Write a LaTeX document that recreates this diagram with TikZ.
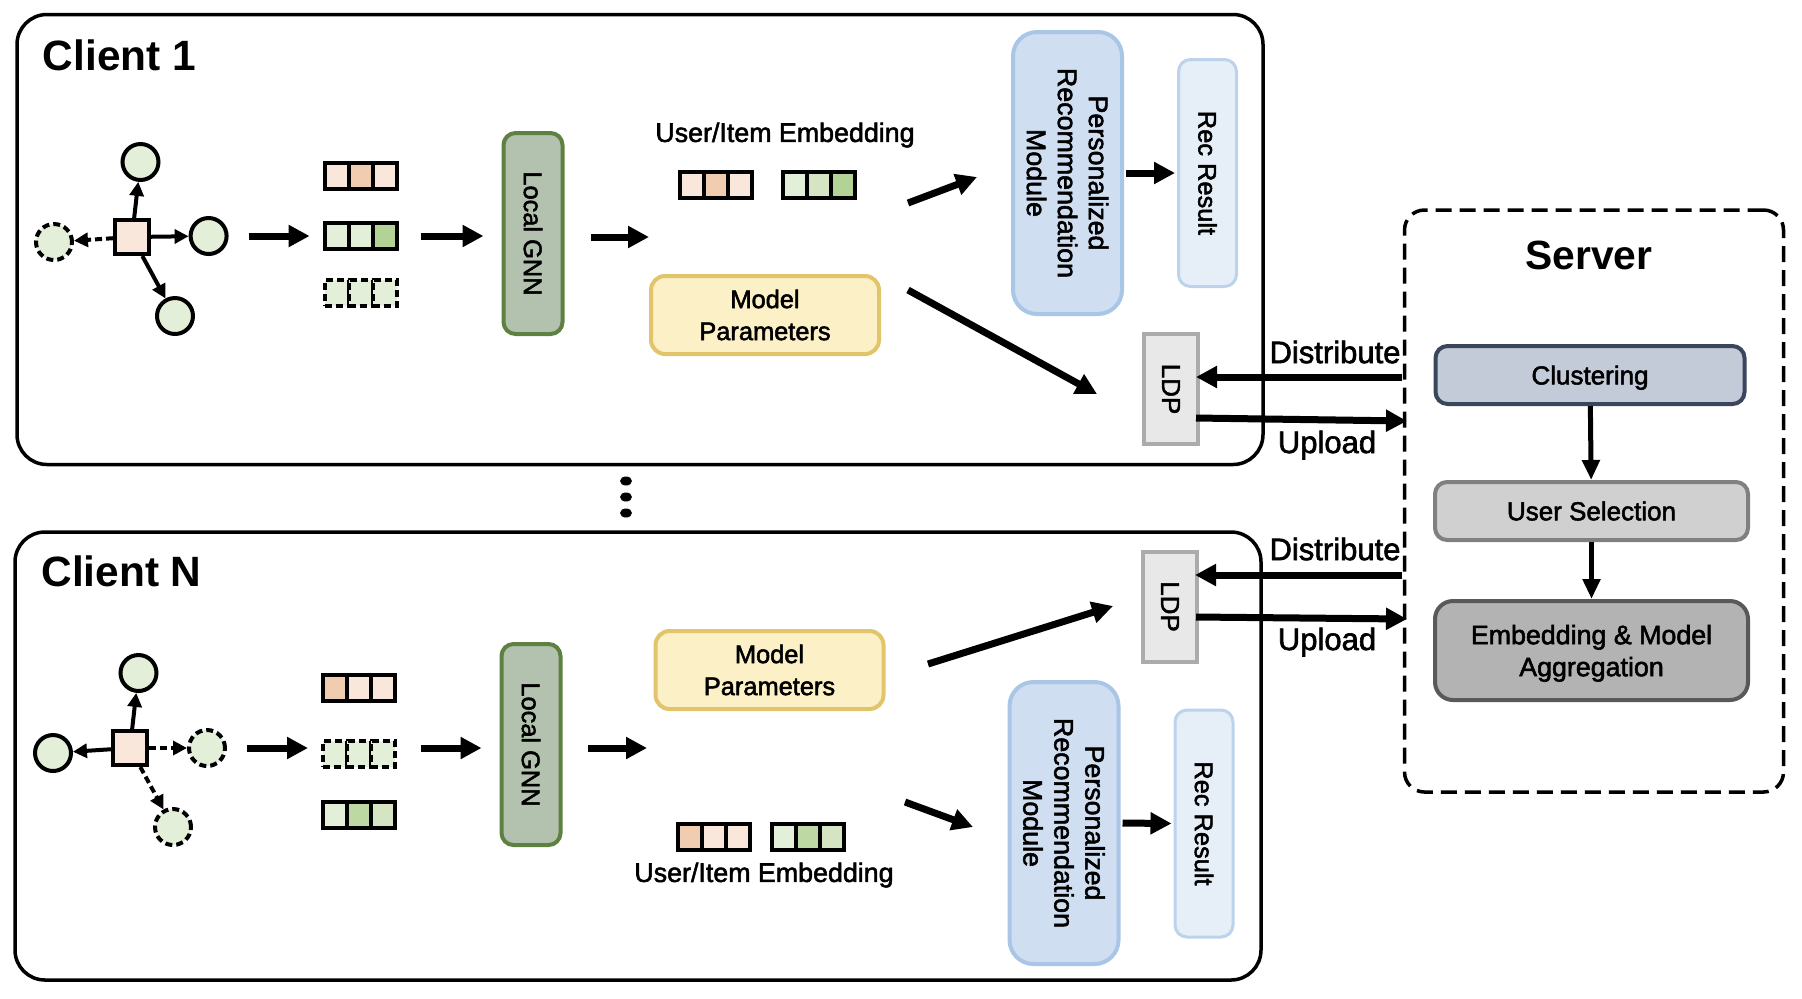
\documentclass[tikz,border=0pt]{standalone}
\usepackage{fontspec}
\usetikzlibrary{arrows.meta,shapes.geometric}
\setmainfont{Liberation Sans}
\newfontfamily\medfont[RawFeature={embolden=2}]{Liberation Sans}
\definecolor{peachA}{HTML}{F8E7DA}
\definecolor{peachB}{HTML}{F0CDB0}
\definecolor{greenA}{HTML}{E3EFD9}
\definecolor{greenB}{HTML}{B2D296}
\definecolor{greenC}{HTML}{BDD8A3}
\definecolor{greenD}{HTML}{D5E5C4}
\tikzset{
  panel/.style={draw,rounded corners=15pt,line width=1.75pt,minimum width=623pt,inner sep=0pt},
  title/.style={font=\bfseries\fontsize{21.2}{24}\selectfont,inner sep=0pt},
  label/.style={font=\medfont\fontsize{13}{16}\selectfont,align=center,inner sep=0pt},
  biglabel/.style={font=\medfont\fontsize{13.4}{15.5}\selectfont,align=center,inner sep=0pt},
  flow/.style={font=\medfont\fontsize{15.5}{18}\selectfont,inner sep=0pt},
  item/.style={draw,circle,line width=2pt,fill=greenA,minimum size=18pt,inner sep=0pt},
  user/.style={draw,rectangle,line width=2pt,fill=peachA,minimum size=17pt,inner sep=0pt},
  cell/.style={draw,rectangle,line width=2pt,minimum width=12pt,minimum height=13pt,inner sep=0pt},
  miss/.style={dash pattern=on 3.5pt off 2pt},
  gnn/.style={draw={rgb,255:red,94;green,128;blue,64},fill={rgb,255:red,178;green,194;blue,174},rectangle,rounded corners=6pt,line width=2pt,minimum width=100.5pt,minimum height=29.5pt,rotate=-90,label,font=\medfont\fontsize{12.7}{16}\selectfont},
  params/.style={draw={rgb,255:red,226;green,196;blue,106},fill={rgb,255:red,252;green,240;blue,198},rectangle,rounded corners=7pt,line width=2pt,minimum width=114pt,minimum height=39pt,label,font=\medfont\fontsize{12.7}{16}\selectfont},
  prm/.style={draw={rgb,255:red,169;green,198;blue,230},fill={rgb,255:red,207;green,222;blue,240},rectangle,rounded corners=12pt,line width=2pt,minimum width=141pt,minimum height=54.5pt,rotate=-90,biglabel},
  rec/.style={draw={rgb,255:red,189;green,211;blue,236},fill={rgb,255:red,230;green,238;blue,248},rectangle,rounded corners=6pt,line width=1.5pt,minimum width=113.5pt,minimum height=29pt,rotate=-90,label,font=\medfont\fontsize{12.7}{16}\selectfont},
  ldp/.style={draw={rgb,255:red,171;green,171;blue,171},fill={rgb,255:red,232;green,232;blue,232},rectangle,line width=2pt,minimum width=55pt,minimum height=27pt,rotate=-90,label},
  stage/.style={rectangle,rounded corners=6pt,line width=2pt,minimum width=156.5pt,label},
  bigarr/.style={line width=3.5pt,-{Triangle[length=10.5pt,width=10.5pt]}},
  midarr/.style={line width=2.5pt,-{Triangle[length=10pt,width=8.5pt]}},
  thinarr/.style={line width=2pt,-{Triangle[length=7pt,width=7pt]}},
  dot/.style={ellipse,fill=black,minimum width=6pt,minimum height=4.5pt,inner sep=0pt}
}
\newcommand{\cellrow}[6][]{%
  \node[cell,#1,fill=#4] (#2a) at (#3) {};
  \node[cell,#1,fill=#5] (#2b) at ([xshift=12pt]#2a.center) {};
  \node[cell,#1,fill=#6] (#2c) at ([xshift=12pt]#2b.center) {};
}
\begin{document}
\begin{tikzpicture}[x=0.5pt,y=-0.5pt]
  \useasboundingbox (0,0) rectangle (1802,998);
  % clients and server frames
  \node[panel,minimum height=225pt] (client1) at (640,239.5) {};
  \node[panel,minimum height=224pt] (clientN) at (638,756) {};
  \node[draw,rectangle,rounded corners=10pt,line width=1.75pt,dash pattern=on 8pt off 4pt,minimum width=189.5pt,minimum height=291pt] (server) at (1594,501) {};
  \node[title,anchor=west] (title1) at (42.5,55) {Client 1};
  \node[title,anchor=west] (titleN) at (41,571) {Client N};
  \node[font=\bfseries\fontsize{20.4}{24}\selectfont,inner sep=0pt] (titleS) at (1589,255) {Server};
  \node[dot] (dotA) at (626,481) {};
  \node[dot] (dotB) at (626,497) {};
  \node[dot] (dotC) at (626,513) {};

  % client 1
  \node[user] (u1) at (132,237) {};
  \node[item] (i1t) at (140.5,162) {};
  \node[item] (i1r) at (208.6,236) {};
  \node[item] (i1b) at (175,316) {};
  \node[item,miss] (i1l) at (54,242) {};
  \draw[thinarr] (u1) -- (i1t);
  \draw[thinarr] (u1) -- (i1r);
  \draw[thinarr] (u1) -- (i1b);
  \draw[thinarr,miss] (u1) -- (i1l);
  \cellrow{v1}{336.6,176}{peachA}{peachB}{peachA}
  \cellrow{w1}{336.6,236}{greenA}{greenA}{greenB}
  \cellrow[miss]{x1}{336.6,292.5}{greenA}{greenA}{greenA}
  \node[gnn] (gnn1) at (533,233.5) {Local GNN};
  \node[biglabel] (emb1) at (785,135) {User/Item Embedding};
  \cellrow{eu1}{692,184.5}{peachA}{peachB}{peachA}
  \cellrow{ei1}{795,184.5}{greenA}{greenD}{greenB}
  \node[params] (par1) at (765,315) {Model\\Parameters};
  \node[prm] (prm1) at (1067.5,173) {Personalized\\Recommendation\\Module};
  \node[rec] (rec1) at (1207.5,173) {Rec Result};
  \node[ldp] (ldp1) at (1171,389) {LDP};
  \draw[bigarr,shorten <=10pt,shorten >=6.5pt] (i1r.east) -- (w1a.west);
  \draw[bigarr,shorten <=11pt,shorten >=9pt] (w1c.east) -- (gnn1.south |- w1c);
  \coordinate (g1s) at (591,237);
  \coordinate (g1e) at (649,237);
  \draw[bigarr] (g1s) -- (g1e);
  \coordinate (e1s) at (908,203);
  \coordinate (e1e) at (977,177);
  \draw[bigarr] (e1s) -- (e1e);
  \coordinate (m1s) at (908,290);
  \coordinate (m1e) at (1097,394);
  \draw[bigarr] (m1s) -- (m1e);
  \draw[bigarr,shorten <=1pt,shorten >=1pt] (prm1.north) -- (rec1.south);
  \coordinate (d1) at (1402,377);
  \draw[bigarr,shorten >=-2pt] (d1) -- (ldp1.north |- d1);
  \coordinate (o1) at (1196,418);
  \coordinate (s1) at (1407,421);
  \draw[bigarr] (o1) -- (s1);
  \node[flow] (dist1) at (1335,352) {Distribute};
  \node[flow] (upl1) at (1327,445) {Upload};

  % client N
  \node[user] (uN) at (130,748) {};
  \node[item] (iNt) at (138.5,673) {};
  \node[item,miss] (iNr) at (207,748) {};
  \node[item,miss] (iNb) at (173,827) {};
  \node[item] (iNl) at (53,753) {};
  \draw[thinarr] (uN) -- (iNt);
  \draw[thinarr,miss] (uN) -- (iNr);
  \draw[thinarr,miss] (uN) -- (iNb);
  \draw[thinarr] (uN) -- (iNl);
  \cellrow{vN}{335,687.5}{peachB}{peachA}{peachA}
  \cellrow[miss]{xN}{335,754}{greenA}{greenA}{greenA}
  \cellrow{wN}{335,815}{greenA}{greenC}{greenD}
  \node[gnn] (gnnN) at (531,744.5) {Local GNN};
  \node[params] (parN) at (769.5,670) {Model\\Parameters};
  \node[biglabel] (embN) at (764,875) {User/Item Embedding};
  \cellrow{euN}{690,836.5}{peachB}{peachA}{peachA}
  \cellrow{eiN}{784,836.5}{greenA}{greenC}{greenD}
  \node[prm] (prmN) at (1064,823) {Personalized\\Recommendation\\Module};
  \node[rec] (recN) at (1204,823.5) {Rec Result};
  \node[ldp] (ldpN) at (1170,606.5) {LDP};
  \draw[bigarr,shorten <=10pt,shorten >=6.5pt] (iNr.east) -- (iNr.east -| xNa.west);
  \draw[bigarr,shorten <=12pt,shorten >=9pt] (xNc.east |- iNr) -- (gnnN.south |- iNr);
  \coordinate (gNs) at (588,748);
  \coordinate (gNe) at (647,748);
  \draw[bigarr] (gNs) -- (gNe);
  \coordinate (mNs) at (928,664);
  \coordinate (mNe) at (1113,606);
  \draw[bigarr] (mNs) -- (mNe);
  \coordinate (eNs) at (905,802);
  \coordinate (eNe) at (973,827);
  \draw[bigarr] (eNs) -- (eNe);
  \draw[bigarr,shorten <=1pt,shorten >=1pt] (prmN.north) -- (recN.south);
  \coordinate (dN) at (1402,575);
  \draw[bigarr,shorten >=-2pt] (dN) -- (ldpN.north |- dN);
  \coordinate (oN) at (1196,617);
  \coordinate (sN) at (1407,619);
  \draw[bigarr] (oN) -- (sN);
  \node[flow] (distN) at (1335,549) {Distribute};
  \node[flow] (uplN) at (1327,642) {Upload};

  % server stages
  \node[stage,draw={rgb,255:red,58;green,70;blue,92},fill={rgb,255:red,195;green,202;blue,216},minimum width=154.5pt,minimum height=29pt,text depth=0pt] (clust) at (1590,375) {Clustering};
  \node[stage,draw={rgb,255:red,128;green,128;blue,128},fill={rgb,255:red,208;green,208;blue,208},minimum height=29pt] (select) at (1591.5,511) {User Selection};
  \node[stage,draw={rgb,255:red,89;green,89;blue,89},fill={rgb,255:red,179;green,179;blue,179},rounded corners=9pt,minimum height=49.5pt,biglabel,font=\medfont\fontsize{13.4}{16}\selectfont,text depth=0pt] (aggr) at (1591.5,650.5) {Embedding \& Model\\Aggregation};
  \draw[midarr] (clust) -- (select);
  \draw[midarr] (select) -- (aggr);
\end{tikzpicture}
\end{document}
